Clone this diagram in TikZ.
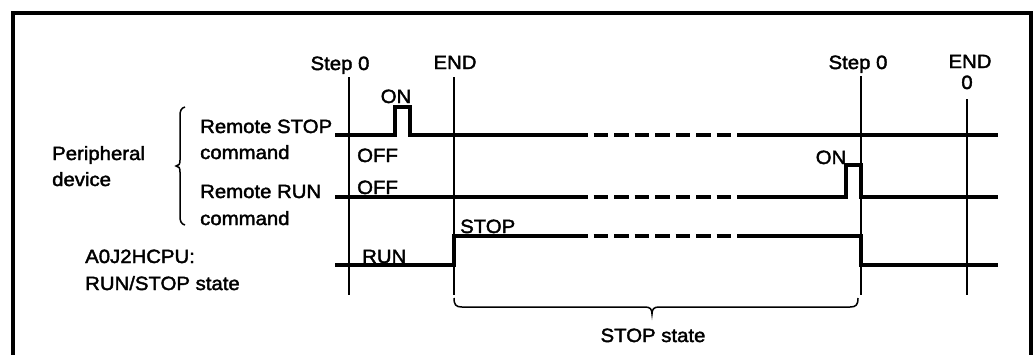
\documentclass[tikz,border=0pt]{standalone}
\usepackage{fontspec}
\setmainfont[FakeStretch=1.06,FakeBold=2]{Liberation Sans}
\usetikzlibrary{decorations.pathreplacing}
\begin{document}
\begin{tikzpicture}[x=1pt,y=-1pt,
  lbl/.style={inner sep=0pt,anchor=base west,font=\fontsize{19.2}{20}\selectfont},
  clbl/.style={inner sep=0pt,anchor=base,font=\fontsize{19.2}{20}\selectfont},
  sig/.style={line width=3.5pt,line join=miter},
  dsig/.style={line width=3.5pt,dash pattern=on 14.5pt off 6pt},
  refl/.style={line width=1.6pt},
  thin/.style={line width=1.5pt}]
\useasboundingbox (0,0) rectangle (1036,354);
% frame
\draw[line width=4pt] (13,360) -- (13,13) -- (1031,13) -- (1031,360);
% reference lines
\coordinate (s0t) at (349,77);  \coordinate (s0b) at (349,295);
\coordinate (e0t) at (454,77);  \coordinate (e0b) at (454,295);
\coordinate (s1t) at (861,76);  \coordinate (s1b) at (861,295);
\coordinate (e1t) at (967,99);  \coordinate (e1b) at (967,295);
\draw[refl] (s0t) -- (s0b);
\draw[refl] (e0t) -- (e0b);
\draw[refl] (s1t) -- (s1b);
\draw[refl] (e1t) -- (e1b);
% labels on top
\node[clbl] (st0) at (340,70) {Step 0};
\node[clbl] (en0) at (455,69) {END};
\node[clbl] (st1) at (858,69) {Step 0};
\node[clbl] (en1) at (970,68) {END};
\node[clbl] (zr1) at (967,89) {0};
% Remote STOP command
\draw[sig] (335,135) -- (395,135) -- (395,107) -- (410,107) -- (410,135) -- (573,135);
\draw[dsig] (573,135) -- (737,135);
\draw[sig] (737,135) -- (998,135);
% Remote RUN command
\draw[sig] (335,197) -- (573,197);
\draw[dsig] (573,197) -- (737,197);
\draw[sig] (737,197) -- (846,197) -- (846,165) -- (861,165) -- (861,197) -- (998,197);
% RUN/STOP state
\draw[sig] (335,265) -- (454,265) -- (454,236) -- (573,236);
\draw[dsig] (573,236) -- (737,236);
\draw[sig] (737,236) -- (861,236) -- (861,265) -- (998,265);
% signal labels
\node[clbl] (on1) at (396,103) {ON};
\node[lbl] (off1) at (357,162) {OFF};
\node[lbl] (off2) at (357,194) {OFF};
\node[lbl] (run) at (362,263) {RUN};
\node[lbl] (stop) at (460,233) {STOP};
\node[clbl] (on2) at (831,164) {ON};
% left labels
\node[lbl] (rs1) at (200,133) {Remote STOP};
\node[lbl] (rs2) at (200,159) {command};
\node[lbl] (pd1) at (52,160) {Peripheral};
\node[lbl] (pd2) at (52,186) {device};
\node[lbl] (rr1) at (200,198) {Remote RUN};
\node[lbl] (rr2) at (200,225) {command};
\node[lbl] (cp1) at (85,263) {A0J2HCPU:};
\node[lbl] (cp2) at (85,290) {RUN/STOP state};
% left brace
\draw[thin] (185,107) .. controls (181,108) and (180,111) .. (180,116) -- (180,160)
  .. controls (180,164) and (179,166) .. (176,166)
  .. controls (179,166) and (180,168) .. (180,172) -- (180,216)
  .. controls (180,221) and (181,224) .. (185,225);
% bottom brace
\draw[thin] (454,298) .. controls (454,305) and (456,307) .. (462,307) -- (645,307)
  .. controls (650,307) and (652,309) .. (652,314)
  .. controls (652,309) and (654,307) .. (659,307) -- (850,307)
  .. controls (856,307) and (858,305) .. (858,298);
\node[clbl] (sst) at (653,342) {STOP state};
\end{tikzpicture}
\end{document}
